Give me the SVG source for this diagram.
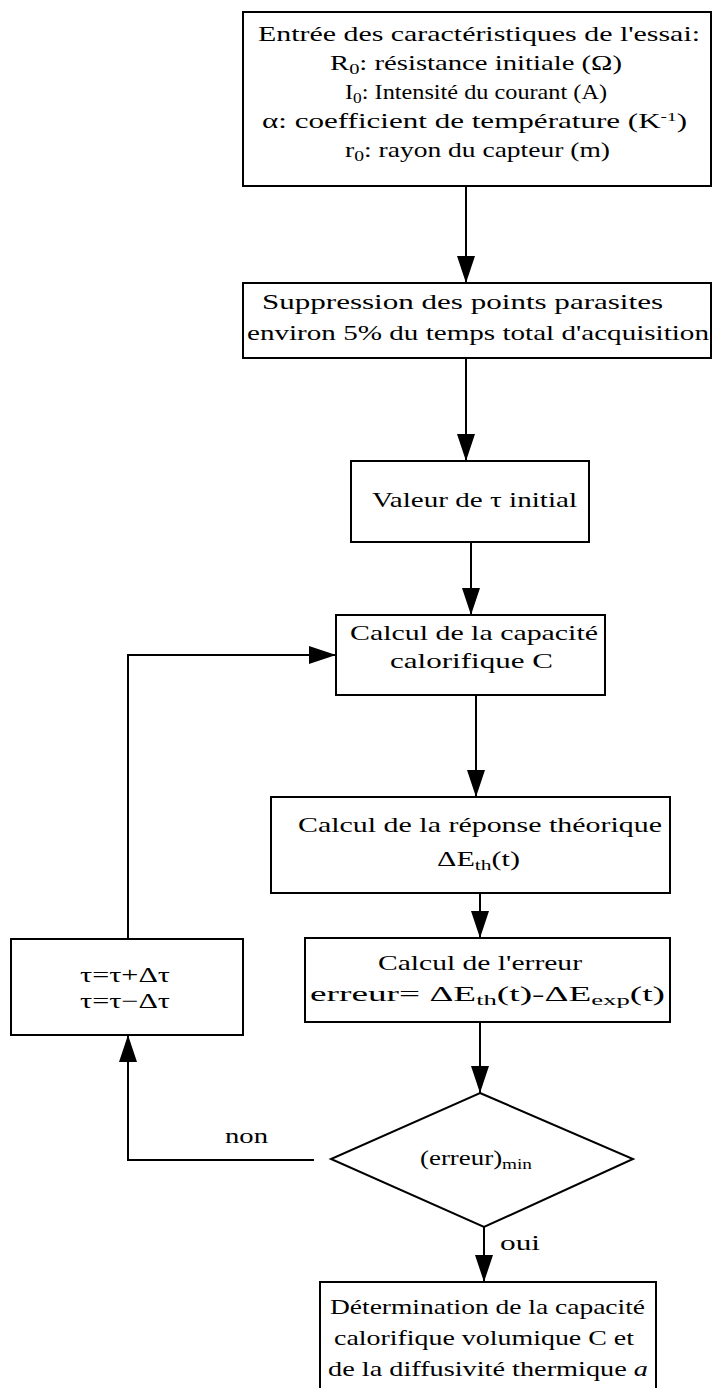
<svg xmlns="http://www.w3.org/2000/svg" width="713" height="1388" viewBox="0 0 713 1388">
<style>
.box{fill:#fff;stroke:#000;stroke-width:2}
.t{font-family:"Liberation Serif","Times New Roman",serif;font-size:21px;fill:#000}
.s{font-size:15px}
.c{fill:none;stroke:#000;stroke-width:2}
</style>
<defs>
<marker id="ah" markerUnits="userSpaceOnUse" markerWidth="27" markerHeight="18" refX="27" refY="9" orient="auto">
<path d="M0,0 L27,9 L0,18 z" fill="#000"/>
</marker>
</defs>
<rect width="713" height="1388" fill="#fff"/>
<g id="connectors">
<line class="c" x1="466" y1="186" x2="466" y2="283" marker-end="url(#ah)"/>
<line class="c" x1="466" y1="358" x2="466" y2="461" marker-end="url(#ah)"/>
<line class="c" x1="471" y1="542" x2="471" y2="615" marker-end="url(#ah)"/>
<line class="c" x1="476" y1="695" x2="476" y2="797" marker-end="url(#ah)"/>
<line class="c" x1="480" y1="893" x2="480" y2="938" marker-end="url(#ah)"/>
<line class="c" x1="480" y1="1022" x2="480" y2="1093" marker-end="url(#ah)"/>
<line class="c" x1="484" y1="1227" x2="484" y2="1282" marker-end="url(#ah)"/>
<path class="c" d="M314,1160 H128 V1035" marker-end="url(#ah)"/>
<path class="c" d="M128,939 V655 H336" marker-end="url(#ah)"/>
<text class="t" x="225" y="1143" textLength="43" lengthAdjust="spacingAndGlyphs">non</text>
<text class="t" x="500" y="1250" textLength="40" lengthAdjust="spacingAndGlyphs">oui</text>
</g>
<g id="n1">
<rect class="box" x="243" y="12" width="468" height="174"/>
<text class="t" x="258" y="41" textLength="442" lengthAdjust="spacingAndGlyphs">Entrée des caractéristiques de l'essai:</text>
<text class="t" x="330" y="70" textLength="292" lengthAdjust="spacingAndGlyphs">R<tspan class="s" dy="4">0</tspan><tspan dy="-4">: résistance initiale (Ω)</tspan></text>
<text class="t" x="345" y="99" textLength="262" lengthAdjust="spacingAndGlyphs">I<tspan class="s" dy="4">0</tspan><tspan dy="-4">: Intensité du courant (A)</tspan></text>
<text class="t" x="262" y="128" textLength="425" lengthAdjust="spacingAndGlyphs">α: coefficient de température (K<tspan font-size="13" dy="-7">-1</tspan><tspan dy="7">)</tspan></text>
<text class="t" x="345" y="157" textLength="265" lengthAdjust="spacingAndGlyphs">r<tspan class="s" dy="4">0</tspan><tspan dy="-4">: rayon du capteur (m)</tspan></text>
</g>
<g id="n2">
<rect class="box" x="243" y="283" width="468" height="75"/>
<text class="t" x="262" y="309" textLength="401" lengthAdjust="spacingAndGlyphs">Suppression des points parasites</text>
<text class="t" x="247" y="340" textLength="462" lengthAdjust="spacingAndGlyphs">environ 5% du temps total d'acquisition</text>
</g>
<g id="n3">
<rect class="box" x="351" y="461" width="238" height="81"/>
<text class="t" x="372" y="507" textLength="205" lengthAdjust="spacingAndGlyphs">Valeur de τ initial</text>
</g>
<g id="n4">
<rect class="box" x="336" y="615" width="269" height="80"/>
<text class="t" x="350" y="640" textLength="248" lengthAdjust="spacingAndGlyphs">Calcul de la capacité</text>
<text class="t" x="390" y="668" textLength="163" lengthAdjust="spacingAndGlyphs">calorifique C</text>
</g>
<g id="n5">
<rect class="box" x="271" y="797" width="399" height="96"/>
<text class="t" x="298" y="832" textLength="364" lengthAdjust="spacingAndGlyphs">Calcul de la réponse théorique</text>
<text class="t" x="437" y="866" textLength="83" lengthAdjust="spacingAndGlyphs">ΔE<tspan class="s" dy="4">th</tspan><tspan dy="-4">(t)</tspan></text>
</g>
<g id="n6">
<rect class="box" x="305" y="938" width="365" height="84"/>
<text class="t" x="378" y="970" textLength="204" lengthAdjust="spacingAndGlyphs">Calcul de l'erreur</text>
<text class="t" x="310" y="1001" textLength="355" lengthAdjust="spacingAndGlyphs">erreur= ΔE<tspan class="s" dy="4">th</tspan><tspan dy="-4">(t)-ΔE</tspan><tspan class="s" dy="4">exp</tspan><tspan dy="-4">(t)</tspan></text>
</g>
<g id="n7">
<rect class="box" x="11" y="939" width="232" height="96"/>
<text class="t" x="80" y="982" textLength="90" lengthAdjust="spacingAndGlyphs">τ=τ+Δτ</text>
<text class="t" x="80" y="1008" textLength="90" lengthAdjust="spacingAndGlyphs">τ=τ−Δτ</text>
</g>
<g id="n8">
<polygon class="box" points="480,1093 633,1159 484,1227 331,1159"/>
<text class="t" x="420" y="1165" textLength="112" lengthAdjust="spacingAndGlyphs">(erreur)<tspan class="s" dy="4">min</tspan></text>
</g>
<g id="n9">
<path class="box" d="M320,1392 V1282 H656 V1392"/>
<text class="t" x="330" y="1314" textLength="315" lengthAdjust="spacingAndGlyphs">Détermination de la capacité</text>
<text class="t" x="334" y="1345" textLength="300" lengthAdjust="spacingAndGlyphs">calorifique volumique C et</text>
<text class="t" x="328" y="1376" textLength="320" lengthAdjust="spacingAndGlyphs">de la diffusivité thermique <tspan font-style="italic">a</tspan></text>
</g>
</svg>
